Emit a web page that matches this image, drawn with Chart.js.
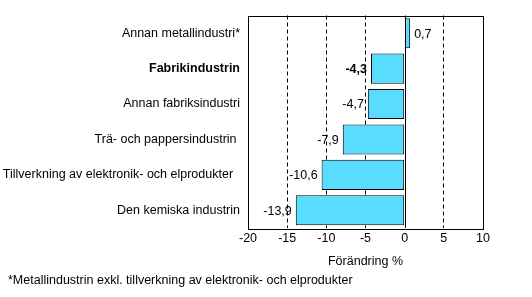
<!DOCTYPE html>
<html>
<head>
<meta charset="utf-8">
<script src="https://cdn.jsdelivr.net/npm/chart.js@4"></script>
<style>
  html, body { margin: 0; padding: 0; background: #fff; }
  #wrap { position: relative; width: 532px; height: 297px; }
</style>
</head>
<body>
<div id="wrap"><canvas id="chart" width="532" height="297"></canvas></div>
<script>
const categories = [
  "Annan metallindustri*",
  "Fabrikindustrin",
  "Annan fabriksindustri",
  "Trä- och pappersindustrin ",
  "Tillverkning av elektronik- och elprodukter  ",
  "Den kemiska industrin"
];
const changes = [0.7, -4.3, -4.7, -7.9, -10.6, -13.9];
const boldIndex = 1;
const axisTitle = "Förändring %";
const footnote = "*Metallindustrin exkl. tillverkning av elektronik- och elprodukter";

const FONT = "'Liberation Sans', Arial, sans-serif";
const SIZE = 12.5;

function fmt(v) {
  return v.toFixed(1).replace(".", ",");
}

/* frame, zero line, value labels, footnote */
const extras = {
  id: "extras",
  beforeDatasetsDraw(chart) {
    const ctx = chart.ctx;
    const x = chart.scales.x;
    const a = chart.chartArea;
    const zx = Math.round(x.getPixelForValue(0)) + 0.5;
    ctx.save();
    ctx.strokeStyle = "#000";
    ctx.lineWidth = 1;
    ctx.beginPath();
    ctx.moveTo(zx, a.top);
    ctx.lineTo(zx, a.bottom);
    ctx.stroke();
    ctx.restore();
  },
  afterDatasetsDraw(chart) {
    const ctx = chart.ctx;
    const a = chart.chartArea;
    const meta = chart.getDatasetMeta(0);
    ctx.save();
    ctx.strokeStyle = "#000";
    ctx.lineWidth = 1;
    ctx.strokeRect(Math.round(a.left) + 0.5, Math.round(a.top) + 0.5,
      Math.round(a.right - a.left), Math.round(a.bottom - a.top));
    ctx.fillStyle = "#000";
    ctx.textBaseline = "middle";
    meta.data.forEach((bar, i) => {
      const v = changes[i];
      ctx.font = (i === boldIndex ? "bold " : "") + SIZE + "px " + FONT;
      if (v < 0) {
        ctx.textAlign = "right";
        ctx.fillText(fmt(v), bar.x - 4, bar.y + 1);
      } else {
        ctx.textAlign = "left";
        ctx.fillText(fmt(v), bar.x + 4, bar.y + 1);
      }
    });
    ctx.font = SIZE + "px " + FONT;
    ctx.textAlign = "left";
    ctx.fillText(footnote, 8, 281);
    ctx.restore();
  }
};

new Chart(document.getElementById("chart"), {
  type: "bar",
  data: {
    labels: categories,
    datasets: [{
      data: changes,
      backgroundColor: "#58DCFF",
      borderColor: "#000",
      borderWidth: 1,
      borderSkipped: false,
      barPercentage: 0.85,
      categoryPercentage: 1
    }]
  },
  options: {
    indexAxis: "y",
    responsive: false,
    animation: false,
    layout: { padding: { top: 1, right: 49, left: 0, bottom: 0 } },
    plugins: {
      legend: { display: false },
      tooltip: { enabled: false }
    },
    scales: {
      x: {
        min: -20,
        max: 10,
        ticks: {
          stepSize: 5,
          padding: 3,
          color: "#000",
          font: { family: FONT, size: SIZE }
        },
        grid: {
          drawTicks: false,
          color: (c) => {
            const v = c.tick ? c.tick.value : null;
            return (v === -20 || v === 0 || v === 10) ? "rgba(0,0,0,0)" : "#000";
          },
          lineWidth: 1
        },
        border: { display: false, dash: [4, 3] },
        title: {
          display: true,
          text: axisTitle,
          color: "#000",
          font: { family: FONT, size: SIZE },
          padding: { top: 0, bottom: 28 }
        },
        afterFit(scale) { scale.height = 69; }
      },
      y: {
        ticks: {
          padding: 8,
          color: "#000",
          font: (c) => ({ family: FONT, size: SIZE, weight: c.index === boldIndex ? "bold" : "normal" })
        },
        grid: { display: false, drawTicks: false },
        border: { display: false },
        afterFit(scale) { scale.width = 248; }
      }
    }
  },
  plugins: [extras]
});
</script>
</body>
</html>
